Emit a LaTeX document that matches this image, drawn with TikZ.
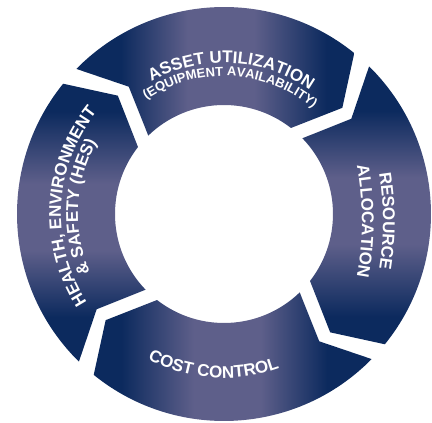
\documentclass[tikz,border=0pt]{standalone}
\usepackage{fontspec}
\setmainfont{Liberation Sans}
\usetikzlibrary{decorations.text}

\definecolor{ringdark}{RGB}{12,42,94}
\definecolor{ringlight}{RGB}{94,95,138}
\pgfdeclarehorizontalshading{ringshade}{100bp}{color(0bp)=(ringdark); color(33bp)=(ringdark); color(45bp)=(ringlight); color(57bp)=(ringlight); color(70bp)=(ringdark); color(100bp)=(ringdark)}

\newcommand\bigfont{\fontsize{17}{17}\selectfont\bfseries}
\newcommand\smallfont{\fontsize{13}{13}\selectfont\bfseries}

\tikzset{
  segment/.style={shading=ringshade, shading angle=#1},
  ringtext/.style={decorate, decoration={text along path, text align=center, text color=white, text={#1}}}
}

\begin{document}
\begin{tikzpicture}
  \useasboundingbox (-224pt,-209pt) rectangle (208pt,214pt);
  % four arrow segments of the ring
  \foreach \a/\s in {135.5/0, 45.5/-90, -44.5/180, 225.5/90}
    \shade[segment=\s] (\a:207pt) arc[start angle=\a, end angle={\a-84.5}, radius=207pt]
      -- ({\a-93.6}:159pt) -- ({\a-83.4}:109pt)
      arc[start angle={\a-83.4}, end angle={\a-1.5}, radius=109pt]
      -- ({\a-8.7}:159pt) -- cycle;
  % labels
  \path[ringtext={|\bigfont|ASSET UTILIZATION}] (147:151pt) arc[start angle=147, end angle=27, radius=151pt];
  \path[ringtext={|\smallfont|(EQUIPMENT AVAILABILITY)}] (147:138pt) arc[start angle=147, end angle=27, radius=138pt];
  \path[ringtext={|\bigfont|RESOURCE}] (-141pt,-7pt) ++(35:300pt) arc[start angle=35, end angle=-35, radius=300pt];
  \path[ringtext={|\bigfont|ALLOCATION}] (-162pt,-7pt) ++(35:300pt) arc[start angle=35, end angle=-35, radius=300pt];
  \path[ringtext={|\bigfont|COST CONTROL}] (216:164pt) arc[start angle=216, end angle=316, radius=164pt];
  \path[ringtext={|\bigfont|HEALTH{,} ENVIRONMENT}] (240:163pt) arc[start angle=240, end angle=114, radius=163pt];
  \path[ringtext={|\bigfont|{\&} SAFETY (HES)}] (240:146pt) arc[start angle=240, end angle=114, radius=146pt];
\end{tikzpicture}
\end{document}
